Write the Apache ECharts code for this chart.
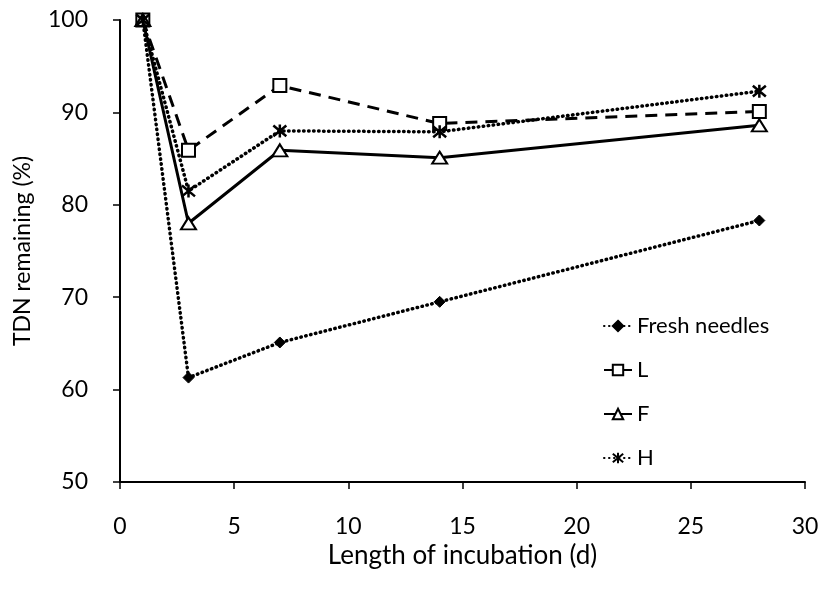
<!DOCTYPE html>
<html>
<head>
<meta charset="utf-8">
<script src="https://cdn.jsdelivr.net/npm/echarts@6/dist/echarts.min.js"></script>
<style>
  html, body { margin: 0; padding: 0; background: #fff; }
  #chart { width: 825px; height: 589px; }
</style>
</head>
<body>
<div id="chart"></div>
<script>
// Incubation days sampled
var days = [1, 3, 7, 14, 28];

// TDN remaining (%) for each needle/litter layer
var freshNeedles = [100, 61.3, 65.1, 69.5, 78.3];
var layerL = [100, 85.9, 92.9, 88.8, 90.1];
var layerF = [100, 78.0, 85.9, 85.1, 88.6];
var layerH = [100, 81.5, 88.0, 87.9, 92.3];

var xTicks = [0, 5, 10, 15, 20, 25, 30];
var yTicks = [50, 60, 70, 80, 90, 100];

var FONT = 'Lato, "Open Sans", "DejaVu Sans", sans-serif';

function pairs(values) {
  return days.map(function (d, i) { return [d, values[i]]; });
}

// Asterisk marker: an X crossed by a vertical stroke
var starPath = 'path://M1,1 L11,11 M11,1 L1,11 M6,0 L6,12';

var chart = echarts.init(document.getElementById('chart'), null, { renderer: 'canvas' });

chart.setOption({
  animation: false,
  backgroundColor: '#ffffff',
  textStyle: { fontFamily: FONT, color: '#000' },
  grid: { left: 120, right: 20, top: 20, bottom: 107, containLabel: false },
  legend: {
    orient: 'vertical',
    left: 598,
    top: 310,
    itemGap: 22,
    itemWidth: 28,
    itemHeight: 13,
    textStyle: { fontFamily: FONT, fontSize: 22, color: '#000' },
    data: ['Fresh needles', 'L', 'F', 'H']
  },
  xAxis: {
    type: 'value',
    min: xTicks[0],
    max: xTicks[xTicks.length - 1],
    interval: 5,
    name: 'Length of incubation (d)',
    nameLocation: 'middle',
    nameGap: 59,
    nameTextStyle: { fontFamily: FONT, fontSize: 26, color: '#000' },
    axisLine: { show: true, lineStyle: { color: '#000', width: 2 } },
    axisTick: { show: true, length: 7, inside: false, lineStyle: { color: '#000', width: 1.5 } },
    axisLabel: { margin: 33, fontFamily: FONT, fontSize: 23, color: '#000' },
    splitLine: { show: false }
  },
  yAxis: {
    type: 'value',
    min: yTicks[0],
    max: yTicks[yTicks.length - 1],
    interval: 10,
    name: 'TDN remaining (%)',
    nameLocation: 'middle',
    nameGap: 86,
    nameRotate: 90,
    nameTextStyle: { fontFamily: FONT, fontSize: 23, color: '#000' },
    axisLine: { show: true, onZero: false, lineStyle: { color: '#000', width: 2 } },
    axisTick: { show: true, length: 7, inside: false, lineStyle: { color: '#000', width: 1.5 } },
    axisLabel: { margin: 32, fontFamily: FONT, fontSize: 23, color: '#000' },
    splitLine: { show: false }
  },
  series: [
    {
      name: 'Fresh needles',
      type: 'line',
      data: pairs(freshNeedles),
      symbol: 'diamond',
      symbolSize: 11,
      itemStyle: { color: '#000', borderColor: '#000', borderWidth: 1 },
      lineStyle: { color: '#000', width: 3.5, type: [0.5, 4.5], cap: 'round' },
      z: 2
    },
    {
      name: 'L',
      type: 'line',
      data: pairs(layerL),
      symbol: 'rect',
      symbolSize: 13,
      itemStyle: { color: '#fff', borderColor: '#000', borderWidth: 2 },
      lineStyle: { color: '#000', width: 3, type: [12, 8] },
      z: 3
    },
    {
      name: 'F',
      type: 'line',
      data: pairs(layerF),
      symbol: 'triangle',
      symbolSize: [15, 12],
      itemStyle: { color: '#fff', borderColor: '#000', borderWidth: 2 },
      lineStyle: { color: '#000', width: 3, type: 'solid' },
      z: 4
    },
    {
      name: 'H',
      type: 'line',
      data: pairs(layerH),
      symbol: starPath,
      symbolSize: 13,
      itemStyle: { color: 'rgba(0,0,0,0)', borderColor: '#000', borderWidth: 2.5 },
      lineStyle: { color: '#000', width: 3.5, type: [0.5, 4.5], cap: 'round' },
      z: 5
    }
  ]
});
</script>
</body>
</html>
